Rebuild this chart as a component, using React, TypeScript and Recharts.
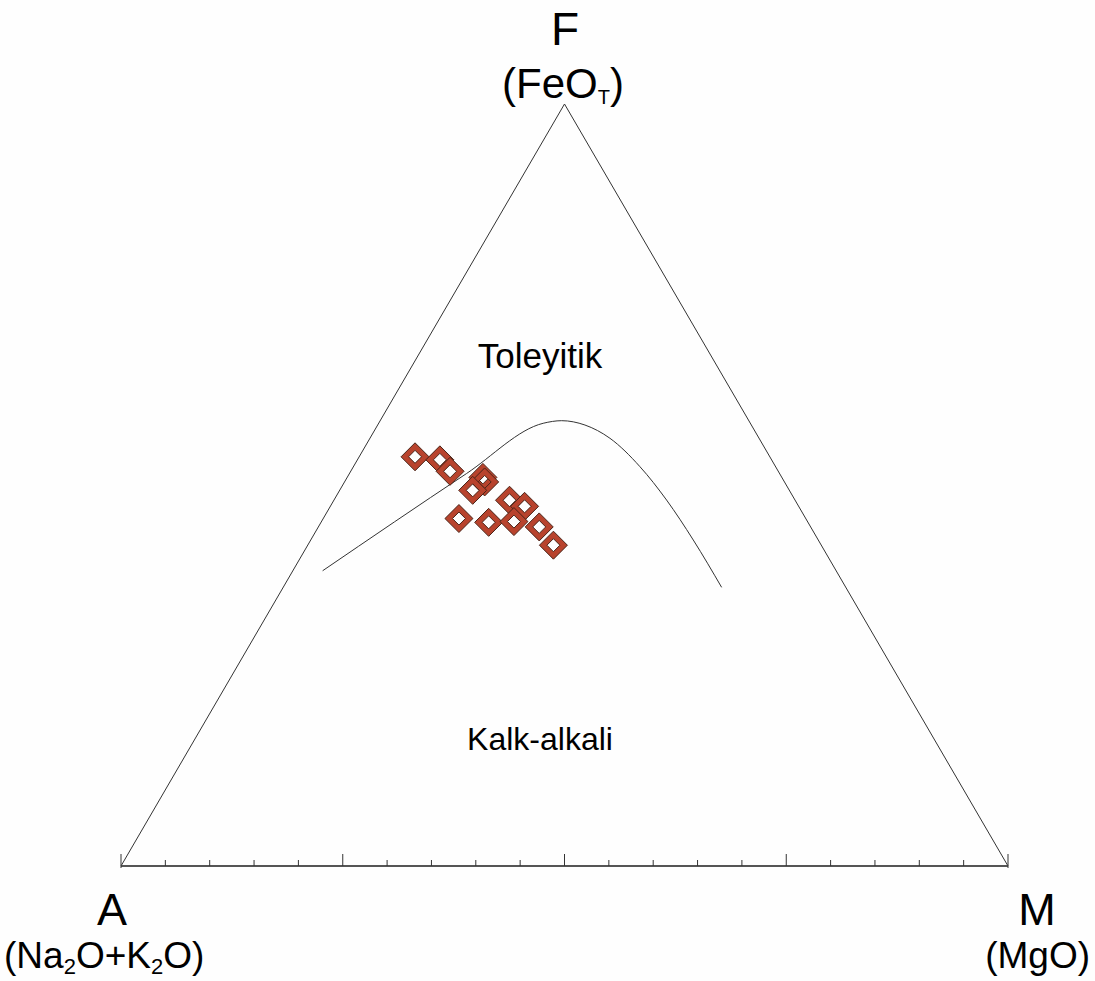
import { ComposedChart, Line, Scatter, XAxis, YAxis } from 'recharts';

// AFM diagram, values in percent (A = Na2O+K2O, F = FeOT, M = MgO)
const sampleA = [40.0, 37.4, 37.0, 33.7, 33.8, 35.7, 32.2, 30.9, 39.1, 36.0, 33.1, 30.6, 30.2];
const sampleF = [53.7, 53.3, 51.8, 51.0, 50.4, 49.3, 48.0, 47.2, 45.6, 45.1, 45.2, 44.5, 42.1];
const sampleM = [6.3, 9.3, 11.2, 15.3, 15.8, 15.0, 19.8, 21.9, 15.3, 18.9, 21.7, 24.9, 27.7];

// Irvine & Baragar boundary, tholeiitic / calc-alkaline
const boundaryA = [57.9, 35.3, 23.35, 21.1, 18.76, 16.81, 15.29, 14.48, 14.09, 14.0];
const boundaryF = [38.75, 51.5, 58.1, 58.44, 57.87, 56.13, 52.4, 48.03, 42.78, 36.57];
const boundaryM = [3.36, 13.2, 18.55, 20.46, 23.37, 27.06, 32.31, 37.5, 43.13, 49.43];

const cornerA = [100, 0, 0];
const cornerF = [0, 100, 0];
const cornerM = [0, 0, 100];

const baseTicks = [0, 5, 10, 15, 20, 25, 30, 35, 40, 45, 50, 55, 60, 65, 70, 75, 80, 85, 90, 95, 100];

const H = Math.sqrt(3) / 2;

// ternary -> cartesian
function toXY(a: number[], f: number[], m: number[]) {
  return a.map((_, i) => {
    const sum = a[i] + f[i] + m[i];
    const ff = (f[i] / sum) * 100;
    const mm = (m[i] / sum) * 100;
    return { x: mm + ff / 2, y: ff * H };
  });
}

const samples = toXY(sampleA, sampleF, sampleM);
const boundary = toXY(boundaryA, boundaryF, boundaryM);
const triangle = toXY(cornerA, cornerF, cornerM);

const font = '"Liberation Sans", Arial, sans-serif';

const Diamond = (props: any) => {
  const { cx, cy } = props;
  if (cx == null || cy == null) return null;
  const o = 14;
  const i = 6.5;
  const d =
    `M${cx},${cy - o} L${cx + o},${cy} L${cx},${cy + o} L${cx - o},${cy} Z ` +
    `M${cx},${cy - i} L${cx + i},${cy} L${cx},${cy + i} L${cx - i},${cy} Z`;
  return <path d={d} fill="#b8432d" fillRule="evenodd" stroke="#4a2418" strokeWidth={1} />;
};

const BaseTick = (props: any) => {
  const { x, y, payload } = props;
  const v = payload.value;
  const end = v === 0 || v === 100;
  const major = v % 25 === 0;
  return (
    <line x1={x} x2={x} y1={end ? y + 2 : y} y2={y - (major ? 12 : 6)} stroke="#333" strokeWidth={1} />
  );
};

export default function App() {
  return (
    <div style={{ position: 'absolute', left: 0, top: 0, width: 1095, height: 981, background: '#fefefe' }}>
      <ComposedChart
        width={1095}
        height={981}
        margin={{ top: 104, right: 87, bottom: 85, left: 121 }}
      >
        <XAxis
          type="number"
          dataKey="x"
          domain={[0, 100]}
          ticks={baseTicks}
          interval={0}
          height={30}
          tickSize={0}
          tickMargin={0}
          tickLine={false}
          tick={<BaseTick />}
          axisLine={{ stroke: '#555', strokeWidth: 2 }}
        />
        <YAxis type="number" dataKey="y" domain={[0, 100 * H]} hide width={0} />
        <Line
          data={[triangle[0], triangle[1], triangle[2]]}
          dataKey="y"
          type="linear"
          stroke="#333"
          strokeWidth={1}
          dot={false}
          activeDot={false}
          isAnimationActive={false}
        />
        <Line
          data={boundary}
          dataKey="y"
          type="monotone"
          stroke="#333"
          strokeWidth={1}
          dot={false}
          activeDot={false}
          isAnimationActive={false}
        />
        <Scatter data={samples} dataKey="y" shape={<Diamond />} isAnimationActive={false} />

        <text x={565} y={45} textAnchor="middle" fontFamily={font} fontSize={46} fill="#000">F</text>
        <text x={563} y={98} textAnchor="middle" fontFamily={font} fontSize={42} fill="#000">
          (FeO<tspan fontSize={20} dy={6}>T</tspan><tspan dy={-6}>)</tspan>
        </text>
        <text x={112} y={925} textAnchor="middle" fontFamily={font} fontSize={45} fill="#000">A</text>
        <text x={4} y={968} textAnchor="start" fontFamily={font} fontSize={37} fill="#000">
          (Na<tspan fontSize={22} dy={6}>2</tspan><tspan dy={-6}>O+K</tspan>
          <tspan fontSize={22} dy={6}>2</tspan><tspan dy={-6}>O)</tspan>
        </text>
        <text x={1037} y={925} textAnchor="middle" fontFamily={font} fontSize={45} fill="#000">M</text>
        <text x={1090} y={968} textAnchor="end" fontFamily={font} fontSize={37} fill="#000">(MgO)</text>
        <text x={540} y={368} textAnchor="middle" fontFamily={font} fontSize={35} fill="#000">Toleyitik</text>
        <text x={540} y={750} textAnchor="middle" fontFamily={font} fontSize={32} fill="#000">Kalk-alkali</text>
      </ComposedChart>
    </div>
  );
}
